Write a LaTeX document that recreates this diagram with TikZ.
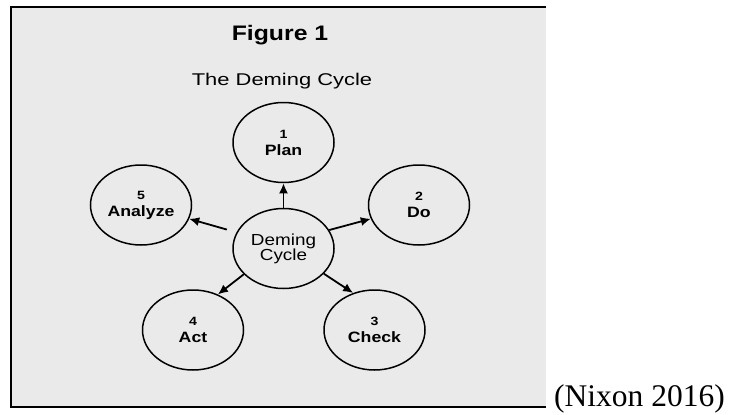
\documentclass[tikz,border=0pt]{standalone}
\usepackage{fontspec}
\usepackage{graphicx}
\setmainfont{Liberation Sans}
\newfontfamily\timesfont{Liberation Serif}
\usetikzlibrary{shapes.geometric,arrows.meta}
\definecolor{panelgray}{HTML}{EAEAEA}
\newcommand{\hst}[1]{\scalebox{1.18}[1]{#1}}
\newcommand{\stagenum}[1]{{\fontsize{12}{12}\selectfont\hst{#1}}}
\tikzset{
  stage/.style={ellipse,draw=black,line width=1.5pt,minimum width=101pt,minimum height=80pt,
    inner sep=0pt,align=center,font=\fontsize{15}{17}\selectfont\bfseries},
  arr/.style={line width=1.8pt,-{Latex[length=10pt,width=9pt]}},
  frame/.style={line width=2pt}
}
\begin{document}
\begin{tikzpicture}[x=1pt,y=-1pt]
\useasboundingbox (0,0) rectangle (731,415);
\fill[panelgray] (11,7) rectangle (546,407);
\draw[frame] (546,7) -- (11,7) -- (11,407) -- (546,407);

\node[font=\fontsize{21}{21}\selectfont\bfseries,anchor=base,inner sep=0pt] (fig) at (280,40) {\hst{Figure 1}};
\node[font=\fontsize{17}{17}\selectfont,anchor=base,inner sep=0pt] (sub) at (282,85) {\scalebox{1.29}[1]{The Deming Cycle}};

\node[stage] (plan) at (283.5,142.5) {\stagenum{1}\\\hst{Plan}};
\node[stage] (do)   at (419,205) {\stagenum{2}\\\hst{Do}};
\node[stage] (ana)  at (141,205) {\stagenum{5}\\\hst{Analyze}};
\node[stage] (act)  at (193,330) {\stagenum{4}\\\hst{Act}};
\node[stage] (chk)  at (374.5,330) {\stagenum{3}\\\hst{Check}};
\node[stage,font=\fontsize{16}{15}\selectfont] (dem) at (283.5,248.5) {\hst{Deming}\\\hst{Cycle}};

\draw[arr] (dem.90) -- (plan.270);
\draw[arr,shorten <=10pt] (dem.161) -- (ana.-16);
\draw[arr] (dem.22) -- (do.196);
\draw[arr] (dem.213) -- (act.55);
\draw[arr] (dem.-32) -- (chk.120);

\node[anchor=base west,inner sep=0pt,font=\timesfont\fontsize{31.5}{31.5}\selectfont] (cite) at (554,406.5) {(Nixon 2016)};
\end{tikzpicture}
\end{document}
